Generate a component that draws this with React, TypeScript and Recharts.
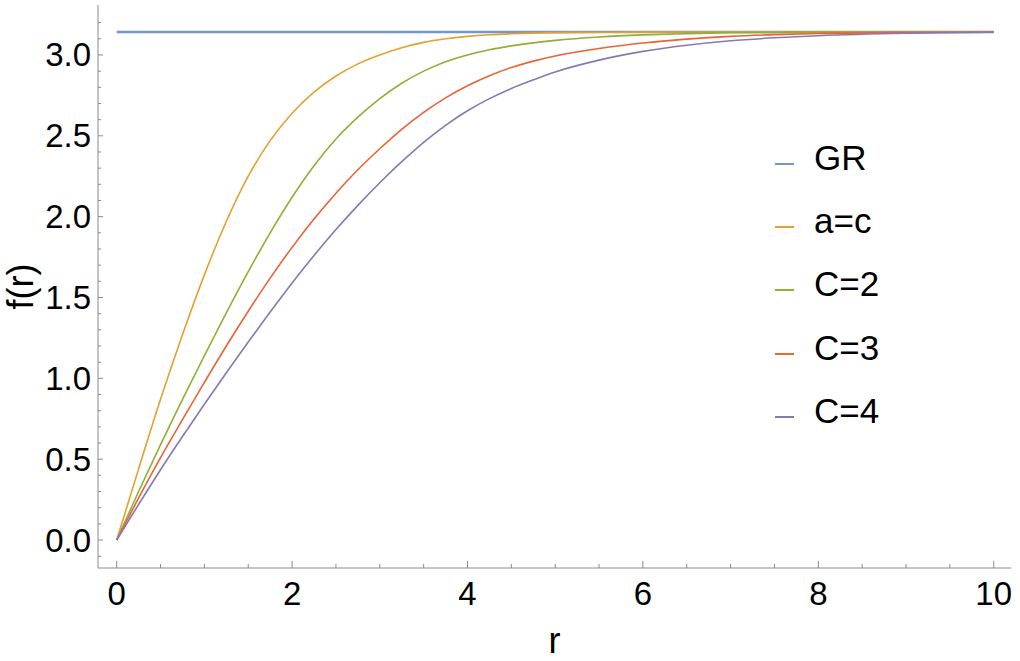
import { LineChart, Line, XAxis, YAxis, Legend, Label } from "recharts";

// sample radii and curve values
const R = [0, 0.25, 0.5, 0.75, 1, 1.25, 1.5, 1.75, 2, 2.25, 2.5, 2.75, 3, 3.25, 3.5, 3.75, 4, 4.25, 4.5, 4.75, 5, 5.5, 6, 6.5, 7, 7.5, 8, 9, 10];
const GR = [3.1416, 3.1416, 3.1416, 3.1416, 3.1416, 3.1416, 3.1416, 3.1416, 3.1416, 3.1416, 3.1416, 3.1416, 3.1416, 3.1416, 3.1416, 3.1416, 3.1416, 3.1416, 3.1416, 3.1416, 3.1416, 3.1416, 3.1416, 3.1416, 3.1416, 3.1416, 3.1416, 3.1416, 3.1416];
const AC = [0, 0.44, 0.87, 1.27, 1.64, 1.97, 2.25, 2.47, 2.64, 2.77, 2.87, 2.945, 3.0, 3.045, 3.078, 3.1, 3.115, 3.125, 3.131, 3.135, 3.138, 3.1405, 3.1413, 3.1416, 3.1416, 3.1416, 3.1416, 3.1416, 3.1416];
const C2 = [0, 0.3, 0.59, 0.87, 1.14, 1.405, 1.66, 1.9, 2.12, 2.315, 2.48, 2.615, 2.73, 2.825, 2.9, 2.958, 3.0, 3.032, 3.056, 3.075, 3.09, 3.111, 3.124, 3.132, 3.137, 3.139, 3.1405, 3.1413, 3.1416];
const C3 = [0, 0.26, 0.51, 0.745, 0.975, 1.2, 1.415, 1.62, 1.81, 1.985, 2.145, 2.29, 2.42, 2.54, 2.645, 2.735, 2.81, 2.872, 2.922, 2.962, 2.994, 3.04, 3.074, 3.098, 3.115, 3.126, 3.133, 3.139, 3.1416];
const C4 = [0, 0.22, 0.435, 0.64, 0.84, 1.035, 1.225, 1.41, 1.59, 1.76, 1.92, 2.07, 2.21, 2.34, 2.46, 2.565, 2.655, 2.73, 2.793, 2.846, 2.895, 2.968, 3.022, 3.06, 3.088, 3.106, 3.119, 3.134, 3.14];

const SERIES_ORDER = ["GR", "a=c", "C=2", "C=3", "C=4"];

const X_TICKS = [0, 0.5, 1, 1.5, 2, 2.5, 3, 3.5, 4, 4.5, 5, 5.5, 6, 6.5, 7, 7.5, 8, 8.5, 9, 9.5, 10];
const X_MAJOR = [0, 2, 4, 6, 8, 10];
const Y_TICKS = [-0.1, 0, 0.1, 0.2, 0.3, 0.4, 0.5, 0.6, 0.7, 0.8, 0.9, 1, 1.1, 1.2, 1.3, 1.4, 1.5, 1.6, 1.7, 1.8, 1.9, 2, 2.1, 2.2, 2.3, 2.4, 2.5, 2.6, 2.7, 2.8, 2.9, 3, 3.1, 3.2];
const Y_MAJOR = [0, 0.5, 1, 1.5, 2, 2.5, 3];
const Y_TICKS_RIGHT = [0, 0.2, 0.4, 0.6, 0.8, 1, 1.2, 1.4, 1.6, 1.8, 2, 2.2, 2.4, 2.6, 2.8, 3, 3.2];
const Y_MAJOR_RIGHT = [0, 1, 2, 3];

const X_DOMAIN = [-0.213, 10.197];
const Y_DOMAIN = [-0.173, 3.309];

const FRAME = "#8a8a8a";
const FONT = "'Liberation Sans', Arial, sans-serif";

const data = R.map((r, i) => ({ r, gr: GR[i], ac: AC[i], c2: C2[i], c3: C3[i], c4: C4[i] }));

const isIn = (list: number[], v: number) => list.some((m) => Math.abs(m - v) < 1e-9);

function BottomTick({ x, y, payload }: any) {
  const major = isIn(X_MAJOR, payload.value);
  return (
    <g>
      <line x1={x} x2={x} y1={y} y2={y - (major ? 7 : 4)} stroke={FRAME} />
      {major && (
        <text x={x} y={y + 25} textAnchor="middle" dominantBaseline="central" fontSize={33} fontFamily={FONT} fill="#000">
          {payload.value}
        </text>
      )}
    </g>
  );
}

function TopTick({ x, y, payload }: any) {
  const major = isIn(X_MAJOR, payload.value);
  return <line x1={x} x2={x} y1={y} y2={y + (major ? 9 : 5)} stroke={FRAME} />;
}

function LeftTick({ x, y, payload }: any) {
  const major = isIn(Y_MAJOR, payload.value);
  return (
    <g>
      <line x1={x} x2={x + (major ? 5 : 3)} y1={y} y2={y} stroke={FRAME} />
      {major && (
        <text x={x - 7} y={y} textAnchor="end" dominantBaseline="central" fontSize={33} fontFamily={FONT} fill="#000">
          {payload.value.toFixed(1)}
        </text>
      )}
    </g>
  );
}

function RightTick({ x, y, payload }: any) {
  const major = isIn(Y_MAJOR_RIGHT, payload.value);
  return <line x1={x} x2={x - (major ? 9 : 5)} y1={y} y2={y} stroke={FRAME} />;
}

function YTitle({ viewBox }: any) {
  const cy = viewBox.y + viewBox.height / 2;
  return (
    <text x={20} y={cy} transform={`rotate(-90 20 ${cy})`} textAnchor="middle" dominantBaseline="central" fontSize={36} fontFamily={FONT}>
      f(r)
    </text>
  );
}

function XTitle({ viewBox }: any) {
  const cx = viewBox.x + viewBox.width / 2;
  return (
    <text x={cx} y={viewBox.y + 72} textAnchor="middle" dominantBaseline="central" fontSize={36} fontFamily={FONT}>
      r
    </text>
  );
}

function LegendBox({ payload }: any) {
  const items = [...(payload || [])].sort((a: any, b: any) => SERIES_ORDER.indexOf(a.value) - SERIES_ORDER.indexOf(b.value));
  return (
    <div style={{ fontFamily: FONT, fontSize: 35 }}>
      {items.map((p: any) => (
        <div key={p.value} style={{ height: 63.3, display: "flex", alignItems: "center" }}>
          <div style={{ width: 19, height: 2, background: p.color, marginTop: 12, marginRight: 20 }} />
          <span>{p.value}</span>
        </div>
      ))}
    </div>
  );
}

export default function App() {
  return (
    <div style={{ position: "absolute", left: 0, top: 0, background: "#fff" }}>
      <LineChart width={1020} height={661} data={data} margin={{ top: 5, right: 9, bottom: 0, left: 0 }}>
        <XAxis xAxisId="b" dataKey="r" type="number" domain={X_DOMAIN} allowDataOverflow ticks={X_TICKS} interval={0}
          height={93} tickSize={0} tickMargin={0} tickLine={false} axisLine={{ stroke: FRAME }} tick={BottomTick}>
          <Label content={XTitle} />
        </XAxis>
        <XAxis xAxisId="t" orientation="top" dataKey="r" type="number" domain={X_DOMAIN} allowDataOverflow ticks={X_TICKS} interval={0}
          height={0} tickSize={0} tickMargin={0} tickLine={false} axisLine={{ stroke: FRAME }} tick={TopTick} />
        <YAxis yAxisId="l" type="number" domain={Y_DOMAIN} allowDataOverflow ticks={Y_TICKS} interval={0}
          width={98} tickSize={0} tickMargin={0} tickLine={false} axisLine={{ stroke: FRAME }} tick={LeftTick}>
          <Label content={YTitle} />
        </YAxis>
        <YAxis yAxisId="r" orientation="right" type="number" domain={Y_DOMAIN} allowDataOverflow ticks={Y_TICKS_RIGHT} interval={0}
          width={0} tickSize={0} tickMargin={0} tickLine={false} axisLine={{ stroke: FRAME }} tick={RightTick} />
        <Line xAxisId="b" yAxisId="l" dataKey="gr" name="GR" stroke="#7396cd" strokeWidth={2.6} dot={false} isAnimationActive={false} />
        <Line xAxisId="b" yAxisId="l" type="monotone" dataKey="ac" name="a=c" stroke="#e5a030" strokeWidth={1.6} dot={false} isAnimationActive={false} />
        <Line xAxisId="b" yAxisId="l" type="monotone" dataKey="c2" name="C=2" stroke="#8fb032" strokeWidth={1.6} dot={false} isAnimationActive={false} />
        <Line xAxisId="b" yAxisId="l" type="monotone" dataKey="c3" name="C=3" stroke="#eb6235" strokeWidth={1.6} dot={false} isAnimationActive={false} />
        <Line xAxisId="b" yAxisId="l" type="monotone" dataKey="c4" name="C=4" stroke="#8778b3" strokeWidth={1.6} dot={false} isAnimationActive={false} />
        <Legend layout="horizontal" verticalAlign="middle" align="center" content={LegendBox}
          wrapperStyle={{ left: 775, top: 126, width: 140 }} />
      </LineChart>
    </div>
  );
}
